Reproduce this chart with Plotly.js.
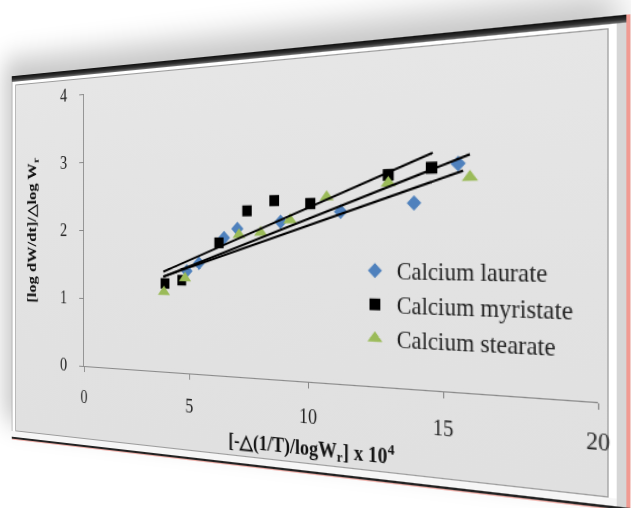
<!DOCTYPE html>
<html><head><meta charset="utf-8">
<script src="https://cdn.plot.ly/plotly-3.0.1.min.js"></script>
<style>
html,body{margin:0;padding:0;background:#fff;width:631px;height:508px;overflow:hidden;}
#wrap{position:absolute;left:0;top:0;width:619px;height:379px;transform-origin:0 0;background:#d6d6d6;box-shadow:-10px -18px 26px rgba(0,0,0,0.22);}
.b{position:absolute;}
#chart{position:absolute;left:0;top:0;width:619px;height:378px;}
</style></head><body>
<div id="wrap">
  <div class="b" style="left:0;top:0;width:619px;height:6px;background:linear-gradient(#0d0d0d,#333 60%,#777);"></div>
  <div class="b" style="left:0;top:6px;width:609px;height:3px;background:#fff;"></div>
  <div class="b" style="left:0;top:6px;width:1px;height:370px;background:#999;"></div>
  <div class="b" style="left:1px;top:6px;width:4px;height:370px;background:#fff;"></div>
  <div class="b" style="left:603px;top:6px;width:6px;height:370px;background:#fff;"></div>
  <div class="b" style="left:0;top:370px;width:609px;height:6px;background:#f6f6f6;"></div>
  <div class="b" style="left:5px;top:9px;width:598px;height:361px;box-sizing:border-box;border:1px solid #9c9c9c;background:linear-gradient(#e6e6e6,#e2e2e2 55%,#e0e0e0);"></div>
  <div class="b" style="left:616px;top:0;width:3px;height:379px;background:#f19a92;"></div>
  <div class="b" style="left:0;top:376px;width:619px;height:2px;background:#222;"></div>
  <div class="b" style="left:0;top:378px;width:619px;height:1px;background:#f0b0aa;"></div>
  <div id="chart"></div>
</div>
<script>
// ---- data ----
const xTicks = [0, 5, 10, 15, 20];
const yTicks = [0, 1, 2, 3, 4];
const seriesNames = ["Calcium laurate", "Calcium myristate", "Calcium stearate"];
const laurateX   = [4.89, 5.43, 6.53, 7.10, 8.90, 11.27, 13.98, 15.52];
const laurateY   = [1.42, 1.53, 1.88, 2.00, 2.09, 2.21, 2.30, 2.77];
const myristateX = [3.90, 4.66, 6.31, 7.51, 8.64, 10.09, 13.05, 14.60];
const myristateY = [1.24, 1.29, 1.81, 2.24, 2.37, 2.32, 2.66, 2.73];
const stearateX  = [3.85, 4.81, 7.17, 8.08, 9.28, 10.73, 13.05, 15.92];
const stearateY  = [1.12, 1.32, 1.92, 1.95, 2.11, 2.40, 2.56, 2.60];
// trendline end points
const laurateFitX   = [3.82, 15.69];
const laurateFitY   = [1.334, 2.68];
const myristateFitX = [3.82, 14.64];
const myristateFitY = [1.404, 2.913];
const stearateFitX  = [3.82, 15.92];
const stearateFitY  = [1.334, 2.875];

const serif = "Liberation Serif, Times New Roman, serif";
const traces = [
  {x: laurateX, y: laurateY, name: seriesNames[0], type: "scatter", mode: "markers", legendgroup: "a",
   marker: {symbol: "diamond", size: 10, color: "#4f81bd"}},
  {x: myristateX, y: myristateY, name: seriesNames[1], type: "scatter", mode: "markers", legendgroup: "b",
   marker: {symbol: "square", size: 10, color: "#000000"}},
  {x: stearateX, y: stearateY, name: seriesNames[2], type: "scatter", mode: "markers", legendgroup: "c",
   marker: {symbol: "triangle-up", size: 12, color: "#9bbb59"}},
  {x: laurateFitX, y: laurateFitY, type: "scatter", mode: "lines", showlegend: false, line: {color: "#000", width: 2}},
  {x: myristateFitX, y: myristateFitY, type: "scatter", mode: "lines", showlegend: false, line: {color: "#000", width: 2}},
  {x: stearateFitX, y: stearateFitY, type: "scatter", mode: "lines", showlegend: false, line: {color: "#000", width: 2}}
];

const L = 95, T = 25, PW = 500, PH = 272;
const layout = {
  width: 619, height: 378,
  margin: {l: L, r: 619 - L - PW, t: T, b: 378 - T - PH, pad: 0},
  paper_bgcolor: "rgba(0,0,0,0)", plot_bgcolor: "rgba(0,0,0,0)",
  font: {family: serif, color: "#222"},
  xaxis: {
    range: [0, 20], tickmode: "array", tickvals: xTicks, ticktext: xTicks.map(String),
    ticks: "outside", ticklen: 5, tickcolor: "#8a8a8a", showline: true, linecolor: "#8a8a8a", linewidth: 1,
    showgrid: false, zeroline: false, ticklabelstandoff: 9,
    tickfont: {family: serif, size: 18, color: "#222"},
    title: {text: "<b>[-\u25B3(1/T)/logW<sub>r</sub>] x 10<sup>4</sup></b>", font: {family: serif, size: 18, color: "#111"}, standoff: 12}
  },
  yaxis: {
    range: [0, 4], tickmode: "array", tickvals: yTicks, ticktext: yTicks.map(String),
    ticks: "outside", ticklen: 5, tickcolor: "#8a8a8a", showline: true, linecolor: "#8a8a8a", linewidth: 1,
    showgrid: false, zeroline: false, ticklabelstandoff: 12,
    tickfont: {family: serif, size: 18, color: "#222"},
    title: {text: "<b>[log dW/dt]/\u25B3log W<sub>r</sub></b>", font: {family: serif, size: 17, color: "#111"}, standoff: 26}
  },
  showlegend: true,
  legend: {x: 0.588, y: 0.437, xanchor: "left", yanchor: "top", bgcolor: "rgba(0,0,0,0)",
           font: {family: serif, size: 20, color: "#222"}, tracegroupgap: 0, itemclick: false}
};

Plotly.newPlot("chart", traces, layout, {displayModeBar: false, staticPlot: true}).then(function () {
  // perspective view of the flat chart (matches the tilted picture)
  const a = 18.895, e = 84, g = -0.01138, d = -2.775, k = 366, s0 = 68;
  const sx = PW / 20, sy = PH / 4;
  const c = 1 - g * L / sx;
  const m = [a / sx / c, d / sx / c, 0, g / sx / c,
             0, s0 / sy / c, 0, 0,
             0, 0, 1, 0,
             (e - a * L / sx) / c, (k - 4 * s0 - s0 * T / sy - d * L / sx) / c, 0, 1];
  document.getElementById("wrap").style.transform = "matrix3d(" + m.join(",") + ")";
});
</script>
</body></html>
